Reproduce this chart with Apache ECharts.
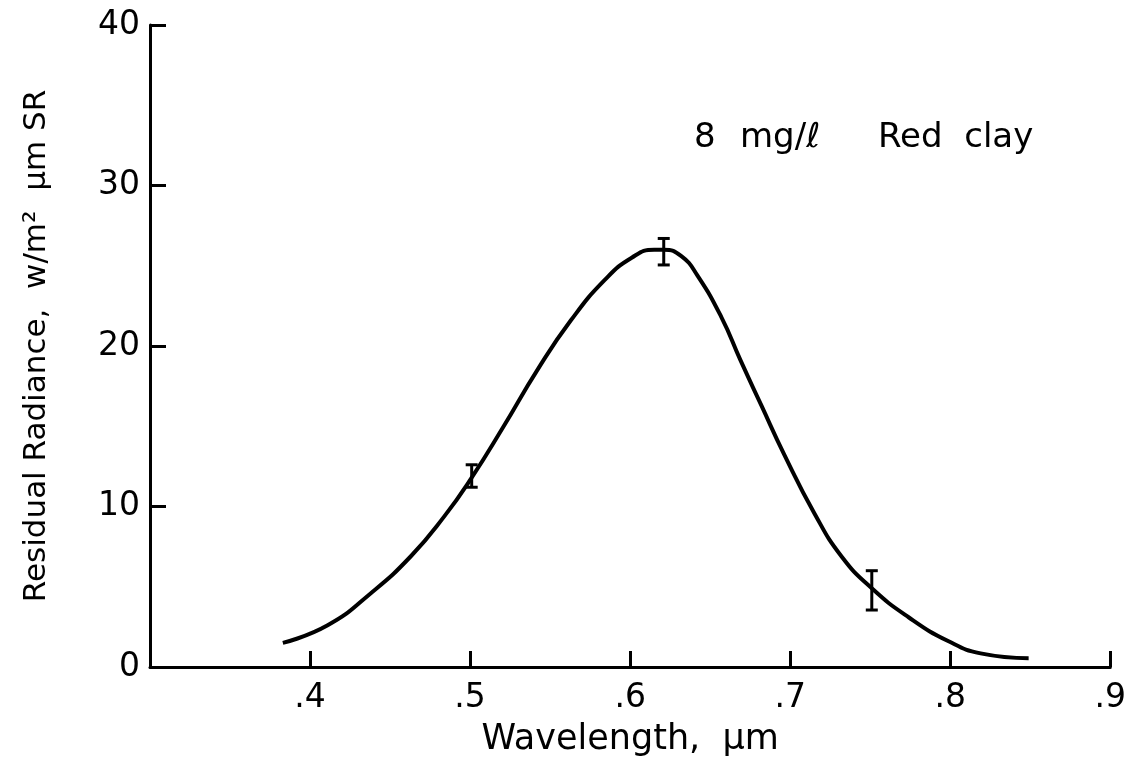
<!DOCTYPE html>
<html>
<head>
<meta charset="utf-8">
<title>Residual Radiance - Red clay</title>
<script src="https://cdn.jsdelivr.net/npm/echarts@6/dist/echarts.min.js"></script>
<style>
html, body { margin: 0; padding: 0; background: #fff; }
#chart { width: 1129px; height: 767px; }
</style>
</head>
<body>
<div id="chart"></div>
<script>
// curve: wavelength (um), residual radiance
var wavelength = [0.383, 0.411, 0.438, 0.463, 0.484, 0.501, 0.521, 0.542, 0.563, 0.584,
                  0.601, 0.615, 0.621, 0.632, 0.642, 0.657, 0.669, 0.682, 0.696, 0.715,
                  0.732, 0.751, 0.774, 0.799, 0.819, 0.849];
var radiance = [1.5, 2.6, 4.6, 6.9, 9.4, 11.8, 15.0, 18.5, 21.6, 24.1,
                25.5, 26.0, 26.0, 25.6, 24.4, 21.8, 19.1, 16.3, 13.3, 9.6,
                6.9, 4.9, 3.1, 1.6, 0.85, 0.55];

// error bars: x, low, high
var errX = [0.501, 0.621, 0.751];
var errLow = [11.2, 25.05, 3.55];
var errHigh = [12.6, 26.7, 6.0];

var xTickLabels = ['', '.4', '.5', '.6', '.7', '.8', '.9'];
var yTickLabels = ['0', '10', '20', '30', '40'];

var FONT = 'DejaVu Sans';

var myChart = echarts.init(document.getElementById('chart'));

var curveData = [];
for (var i = 0; i < wavelength.length; i++) {
    curveData.push([wavelength[i], radiance[i]]);
}
var errData = [];
for (var j = 0; j < errX.length; j++) {
    errData.push([errX[j], errLow[j], errHigh[j]]);
}

function note(txt, x) {
    return {
        type: 'text', left: x, top: 121,
        style: { text: txt, fontFamily: FONT, fontSize: 34, fill: '#000' }
    };
}

var option = {
    backgroundColor: '#fff',
    animation: false,
    // sample label, split up to keep the wide spacing of the original
    graphic: [
        note('8', 694),
        note('mg/\u2113', 740),
        note('Red  clay', 878)
    ],
    grid: { left: 150, right: 17, top: 25, bottom: 100 },
    xAxis: {
        type: 'value',
        min: 0.3,
        max: 0.9,
        interval: 0.1,
        name: 'Wavelength,  \u03bcm',
        nameLocation: 'middle',
        nameGap: 55,
        nameTextStyle: { fontFamily: FONT, fontSize: 35, color: '#000' },
        axisLine: { show: true, lineStyle: { color: '#000', width: 3 } },
        axisTick: { show: true, inside: true, length: 16, lineStyle: { color: '#000', width: 3 } },
        axisLabel: {
            margin: 15,
            fontFamily: FONT,
            fontSize: 33,
            color: '#000',
            formatter: function (v) {
                return xTickLabels[Math.round((v - 0.3) / 0.1)] || '';
            }
        },
        splitLine: { show: false }
    },
    yAxis: {
        type: 'value',
        min: 0,
        max: 40,
        interval: 10,
        name: 'Residual Radiance,  w/m\u00b2  \u03bcm SR',
        nameLocation: 'middle',
        nameGap: 98,
        nameTextStyle: { fontFamily: FONT, fontSize: 31, color: '#000' },
        axisLine: { show: true, lineStyle: { color: '#000', width: 3 } },
        axisTick: { show: true, inside: true, length: 16, lineStyle: { color: '#000', width: 3 } },
        axisLabel: {
            margin: 10,
            fontFamily: FONT,
            fontSize: 33,
            color: '#000',
            formatter: function (v) {
                return yTickLabels[Math.round(v / 10)];
            }
        },
        splitLine: { show: false }
    },
    series: [
        {
            type: 'line',
            data: curveData,
            smooth: 0.5,
            symbol: 'none',
            lineStyle: { color: '#000', width: 4 }
        },
        {
            type: 'custom',
            data: errData,
            renderItem: function (params, api) {
                var top = api.coord([api.value(0), api.value(2)]);
                var bot = api.coord([api.value(0), api.value(1)]);
                var w = 6;
                var st = { stroke: '#000', lineWidth: 3 };
                return {
                    type: 'group',
                    children: [
                        { type: 'line', shape: { x1: top[0], y1: top[1], x2: bot[0], y2: bot[1] }, style: st },
                        { type: 'line', shape: { x1: top[0] - w, y1: top[1], x2: top[0] + w, y2: top[1] }, style: st },
                        { type: 'line', shape: { x1: bot[0] - w, y1: bot[1], x2: bot[0] + w, y2: bot[1] }, style: st }
                    ]
                };
            }
        }
    ]
};

myChart.setOption(option);
</script>
</body>
</html>
